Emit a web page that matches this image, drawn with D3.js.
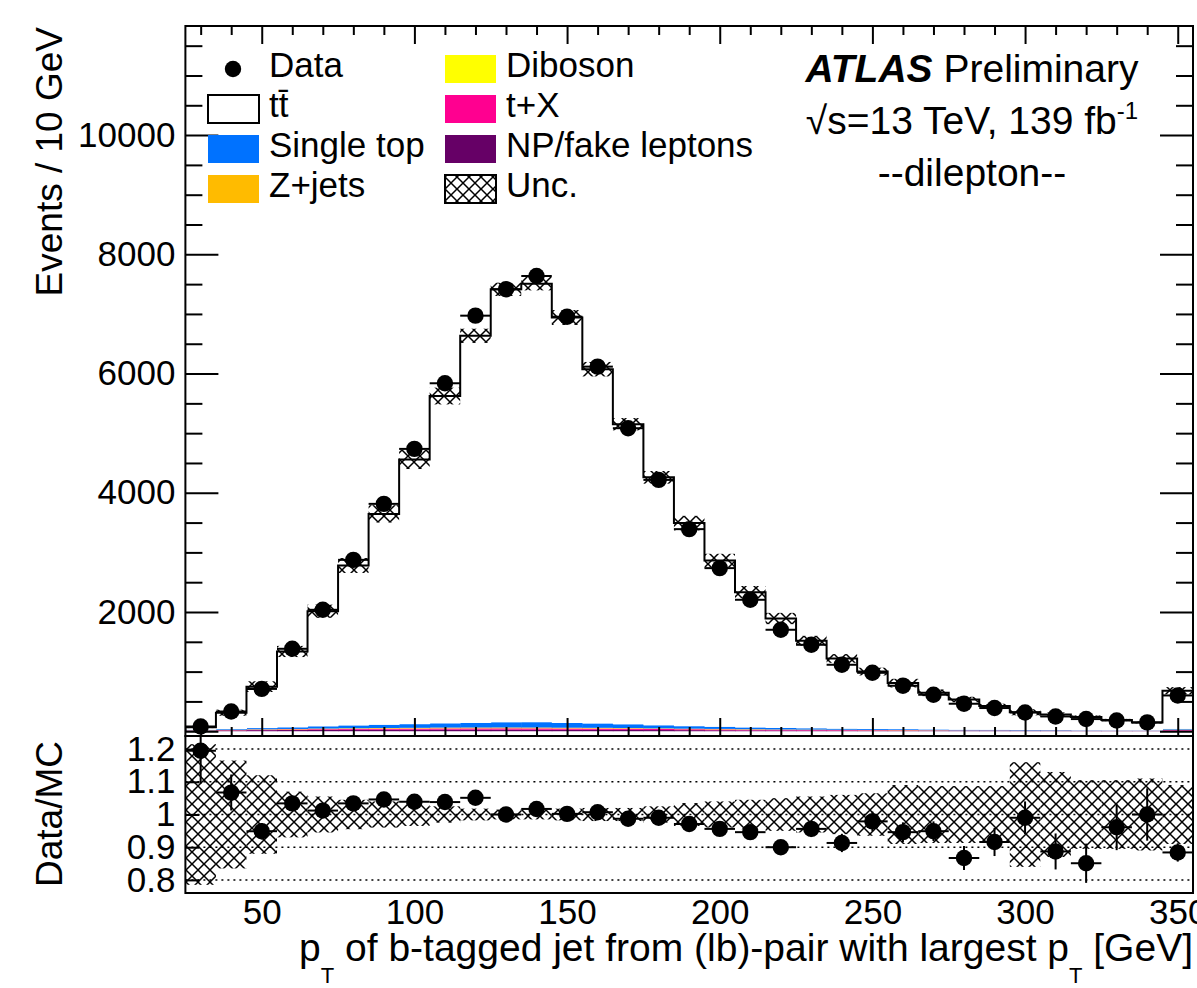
<!DOCTYPE html>
<html>
<head>
<meta charset="utf-8">
<script src="https://cdn.jsdelivr.net/npm/d3@7/dist/d3.min.js"></script>
<style>
  html, body { margin: 0; padding: 0; background: #fff; }
  svg text { font-family: "Liberation Sans", Arial, Helvetica, sans-serif; fill: #000; white-space: pre; }
</style>
</head>
<body>
<div id="chart"></div>
<script>
// bin centres (10 GeV bins, last bin includes overflow)
const binCenters = [30, 40, 50, 60, 70, 80, 90, 100, 110, 120, 130, 140, 150, 160, 170, 180, 190,
                    200, 210, 220, 230, 240, 250, 260, 270, 280, 290, 300, 310, 320, 330, 340, 350];

const dataEvents = [80, 332, 710, 1383, 2037, 2875, 3814, 4736, 5837, 6971, 7413, 7636, 6954, 6116, 5083, 4216, 3390,
                    2736, 2205, 1702, 1450, 1115, 980, 763, 612, 461, 389, 315, 248, 204, 181, 148, 600];

// MC components (events / bin)
const ttbar     = [42, 275, 695, 1272, 1930, 2682, 3537, 4439, 5490, 6493, 7262, 7356, 6801, 5942, 5033, 4159, 3406,
                   2787, 2267, 1835, 1467, 1178, 963, 772, 615, 507, 401, 297, 260, 224, 173, 133, 639];
const singleTop = [8, 12, 20, 28, 38, 48, 55, 62, 72, 78, 88, 90, 80, 74, 64, 52, 42,
                   36, 30, 26, 22, 18, 15, 14, 12, 10, 9, 8, 7, 6, 5, 5, 12];
const zjets     = [3, 4, 5, 6, 7, 8, 9, 9, 10, 10, 10, 10, 9, 9, 8, 7, 6,
                   6, 5, 4, 4, 3, 3, 3, 2, 2, 2, 2, 2, 1, 1, 1, 3];
const diboson   = [1, 1, 2, 2, 3, 3, 3, 4, 4, 4, 4, 4, 4, 4, 3, 3, 3,
                   3, 3, 2, 2, 2, 2, 2, 2, 1, 1, 1, 1, 1, 1, 1, 3];
const tX        = [3, 5, 8, 10, 13, 15, 17, 19, 21, 22, 23, 23, 22, 21, 20, 18, 16,
                   14, 12, 11, 10, 9, 8, 7, 6, 5, 5, 4, 4, 3, 3, 3, 10];
const npFake    = [10, 14, 18, 20, 22, 24, 25, 25, 26, 26, 26, 25, 24, 23, 22, 20, 18,
                   16, 14, 13, 12, 11, 10, 9, 8, 7, 7, 6, 6, 5, 5, 5, 12];

// relative MC uncertainty per bin
const mcUnc = [0.215, 0.165, 0.12, 0.07, 0.055, 0.045, 0.04, 0.035, 0.025, 0.018, 0.015, 0.015, 0.018, 0.02, 0.02, 0.025, 0.035,
               0.04, 0.045, 0.05, 0.055, 0.06, 0.065, 0.09, 0.087, 0.087, 0.087, 0.16, 0.13, 0.105, 0.105, 0.11, 0.09];

// Data/MC ratio and its statistical error
const ratio    = [1.195, 1.067, 0.949, 1.034, 1.012, 1.034, 1.046, 1.039, 1.038, 1.051, 1.000, 1.017, 1.002, 1.007, 0.987, 0.990, 0.971,
                  0.956, 0.946, 0.900, 0.956, 0.913, 0.979, 0.946, 0.949, 0.867, 0.916, 0.990, 0.887, 0.851, 0.961, 1.000, 0.884];
const ratioErr = [0.10, 0.055, 0.025, 0.015, 0.012, 0.01, 0.01, 0.01, 0.01, 0.01, 0.01, 0.01, 0.01, 0.01, 0.012, 0.013, 0.015,
                  0.017, 0.02, 0.022, 0.025, 0.028, 0.03, 0.03, 0.03, 0.037, 0.043, 0.05, 0.055, 0.06, 0.07, 0.08, 0.028];

const mainTicks = [2000, 4000, 6000, 8000, 10000];
const ratioTicks = [0.8, 0.9, 1.0, 1.1, 1.2];
const xTicks = [50, 100, 150, 200, 250, 300, 350];

const components = [
  { key: "npFake",    label: "NP/fake leptons", color: "#660066", values: npFake },
  { key: "tX",        label: "t+X",             color: "#ff0090", values: tX },
  { key: "diboson",   label: "Diboson",         color: "#ffff00", values: diboson },
  { key: "zjets",     label: "Z+jets",          color: "#ffbb00", values: zjets },
  { key: "singleTop", label: "Single top",      color: "#0072ff", values: singleTop },
  { key: "ttbar",     label: "tt\u0304",        color: "#ffffff", values: ttbar }
];

const halfBin = 5;
const frame = { left: 185.4, right: 1193, top: 26, split: 736, bottom: 893 };

const svg = d3.select("#chart").append("svg")
  .attr("width", 1197).attr("height", 988);

const x = d3.scaleLinear().domain([25, 355]).range([frame.left, frame.right]);
const y = d3.scaleLinear().domain([-80, 11830]).range([frame.split, frame.top]);
const yR = d3.scaleLinear().domain([0.76, 1.24]).range([frame.bottom, frame.split]);

const defs = svg.append("defs");
const hatch = defs.append("pattern").attr("id", "hatch")
  .attr("patternUnits", "userSpaceOnUse").attr("width", 12).attr("height", 12);
hatch.append("path").attr("d", "M-2,-2 L14,14 M14,-2 L-2,14")
  .attr("stroke", "#000").attr("stroke-width", 1.5).attr("fill", "none");

defs.append("clipPath").attr("id", "clipMain").append("rect")
  .attr("x", frame.left).attr("y", frame.top)
  .attr("width", frame.right - frame.left).attr("height", frame.split - frame.top);
defs.append("clipPath").attr("id", "clipRatio").append("rect")
  .attr("x", frame.left).attr("y", frame.split)
  .attr("width", frame.right - frame.left).attr("height", frame.bottom - frame.split);

/* -------------------- MAIN PANEL -------------------- */
const rows = binCenters.map((c, i) => {
  const r = { c };
  components.forEach(comp => r[comp.key] = comp.values[i]);
  return r;
});
const stacked = d3.stack().keys(components.map(d => d.key))(rows);
const mcTotal = stacked[stacked.length - 1].map(d => d[1]);

const main = svg.append("g").attr("clip-path", "url(#clipMain)");

stacked.forEach((layer, li) => {
  main.append("g").selectAll("rect")
    .data(layer)
    .join("rect")
    .attr("x", d => x(d.data.c - halfBin))
    .attr("width", d => x(d.data.c + halfBin) - x(d.data.c - halfBin) + 0.5)
    .attr("y", d => y(d[1]))
    .attr("height", d => Math.max(0, y(d[0]) - y(d[1])))
    .attr("fill", components[li].color);
});

// uncertainty band on total MC
main.append("g").selectAll("rect")
  .data(binCenters)
  .join("rect")
  .attr("x", (c) => x(c - halfBin))
  .attr("width", (c) => x(c + halfBin) - x(c - halfBin))
  .attr("y", (c, i) => y(mcTotal[i] * (1 + mcUnc[i])))
  .attr("height", (c, i) => y(mcTotal[i] * (1 - mcUnc[i])) - y(mcTotal[i] * (1 + mcUnc[i])))
  .attr("fill", "url(#hatch)");

// total MC outline (step)
const stepPts = [[25, 0]].concat(binCenters.map((c, i) => [c - halfBin, mcTotal[i]]), [[355, mcTotal[mcTotal.length - 1]]]);
main.append("path")
  .attr("d", d3.line().x(d => x(d[0])).y(d => y(d[1])).curve(d3.curveStepAfter)(stepPts))
  .attr("fill", "none").attr("stroke", "#000").attr("stroke-width", 2);

// data
const dataG = main.append("g");
dataG.selectAll("line")
  .data(binCenters)
  .join("line")
  .attr("x1", c => x(c - halfBin)).attr("x2", c => x(c + halfBin))
  .attr("y1", (c, i) => y(dataEvents[i])).attr("y2", (c, i) => y(dataEvents[i]))
  .attr("stroke", "#000").attr("stroke-width", 2);
dataG.selectAll("circle")
  .data(binCenters)
  .join("circle")
  .attr("cx", c => x(c)).attr("cy", (c, i) => y(dataEvents[i]))
  .attr("r", 8.2).attr("fill", "#000");

/* -------------------- RATIO PANEL -------------------- */
const ratioG = svg.append("g").attr("clip-path", "url(#clipRatio)");

ratioG.selectAll("line.grid")
  .data(ratioTicks)
  .join("line").attr("class", "grid")
  .attr("x1", frame.left).attr("x2", frame.right)
  .attr("y1", d => yR(d)).attr("y2", d => yR(d))
  .attr("stroke", "#000").attr("stroke-width", 1.5).attr("stroke-dasharray", "2,4");

ratioG.append("g").selectAll("rect")
  .data(binCenters)
  .join("rect")
  .attr("x", c => x(c - halfBin))
  .attr("width", c => x(c + halfBin) - x(c - halfBin))
  .attr("y", (c, i) => yR(1 + mcUnc[i]))
  .attr("height", (c, i) => yR(1 - mcUnc[i]) - yR(1 + mcUnc[i]))
  .attr("fill", "url(#hatch)");

const rData = ratioG.append("g");
rData.selectAll("line.h")
  .data(binCenters)
  .join("line").attr("class", "h")
  .attr("x1", c => x(c - halfBin)).attr("x2", c => x(c + halfBin))
  .attr("y1", (c, i) => yR(ratio[i])).attr("y2", (c, i) => yR(ratio[i]))
  .attr("stroke", "#000").attr("stroke-width", 2);
rData.selectAll("line.v")
  .data(binCenters)
  .join("line").attr("class", "v")
  .attr("x1", c => x(c)).attr("x2", c => x(c))
  .attr("y1", (c, i) => yR(ratio[i] - ratioErr[i])).attr("y2", (c, i) => yR(ratio[i] + ratioErr[i]))
  .attr("stroke", "#000").attr("stroke-width", 2);
rData.selectAll("circle")
  .data(binCenters)
  .join("circle")
  .attr("cx", c => x(c)).attr("cy", (c, i) => yR(ratio[i]))
  .attr("r", 8.2).attr("fill", "#000");

/* -------------------- AXES -------------------- */
function styleAxis(g) {
  g.attr("font-size", null).attr("font-family", null);
  g.select(".domain").remove();
  g.selectAll(".tick line").attr("stroke", "#000").attr("stroke-width", 2);
  g.selectAll("text").style("font-size", "35px").attr("fill", "#000");
}

const minorY = d3.range(0, 11830, 500).filter(v => v % 2000 !== 0);
const majorY = d3.range(0, 11830, 2000);
const minorX = d3.range(30, 355, 10).filter(v => v % 50 !== 0);

// left
svg.append("g").attr("transform", `translate(${frame.left},0)`)
  .call(d3.axisLeft(y).tickValues(majorY).tickSize(-33).tickPadding(10)
    .tickFormat(d => mainTicks.includes(d) ? d : ""))
  .call(styleAxis);
svg.append("g").attr("transform", `translate(${frame.left},0)`)
  .call(d3.axisLeft(y).tickValues(minorY).tickSize(-17).tickFormat(""))
  .call(styleAxis);
// right
svg.append("g").attr("transform", `translate(${frame.right},0)`)
  .call(d3.axisRight(y).tickValues(majorY).tickSize(-33).tickFormat(""))
  .call(styleAxis);
svg.append("g").attr("transform", `translate(${frame.right},0)`)
  .call(d3.axisRight(y).tickValues(minorY).tickSize(-17).tickFormat(""))
  .call(styleAxis);
// top and bottom of main panel
[[frame.top, d3.axisTop], [frame.split, d3.axisBottom]].forEach(([yy, ax]) => {
  svg.append("g").attr("transform", `translate(0,${yy})`)
    .call(ax(x).tickValues(xTicks).tickSize(-18).tickFormat(""))
    .call(styleAxis);
  svg.append("g").attr("transform", `translate(0,${yy})`)
    .call(ax(x).tickValues(minorX).tickSize(-9).tickFormat(""))
    .call(styleAxis);
});
// ratio y axis
svg.append("g").attr("transform", `translate(${frame.left},0)`)
  .call(d3.axisLeft(yR).tickValues(ratioTicks).tickSize(-14).tickPadding(10)
    .tickFormat(d => d === 1 ? "1" : d.toFixed(1)))
  .call(styleAxis);
// ratio x axis labels
svg.append("g").attr("transform", `translate(0,${frame.bottom})`)
  .call(d3.axisBottom(x).tickValues(xTicks).tickSize(0).tickPadding(6))
  .call(styleAxis);

// frames
svg.append("rect").attr("x", frame.left).attr("y", frame.top)
  .attr("width", frame.right - frame.left).attr("height", frame.split - frame.top)
  .attr("fill", "none").attr("stroke", "#000").attr("stroke-width", 2);
svg.append("rect").attr("x", frame.left).attr("y", frame.split)
  .attr("width", frame.right - frame.left).attr("height", frame.bottom - frame.split)
  .attr("fill", "none").attr("stroke", "#000").attr("stroke-width", 2);

/* -------------------- TITLES -------------------- */
svg.append("text")
  .attr("transform", "translate(62,27) rotate(-90)")
  .attr("text-anchor", "end").style("font-size", "37px")
  .text("Events / 10 GeV");
svg.append("text")
  .attr("transform", "translate(62,814) rotate(-90)")
  .attr("text-anchor", "middle").style("font-size", "37px")
  .text("Data/MC");

const xt = svg.append("text").attr("x", 1193).attr("y", 961)
  .attr("text-anchor", "end").style("font-size", "39px");
xt.append("tspan").text("p");
xt.append("tspan").attr("dy", 22).style("font-size", "22px").text("T");
xt.append("tspan").attr("dy", -22).text(" of b-tagged jet from (lb)-pair with largest p");
xt.append("tspan").attr("dy", 22).style("font-size", "22px").text("T");
xt.append("tspan").attr("dy", -22).text(" [GeV]");

const atlas = svg.append("text").attr("x", 972).attr("y", 82)
  .attr("text-anchor", "middle").style("font-size", "39px");
atlas.append("tspan").attr("font-weight", "bold").attr("font-style", "italic").text("ATLAS");
atlas.append("tspan").text(" Preliminary");

const lumi = svg.append("text").attr("x", 972).attr("y", 134)
  .attr("text-anchor", "middle").style("font-size", "39px");
lumi.append("tspan").text("\u221As=13 TeV, 139 fb");
lumi.append("tspan").attr("dy", -15).style("font-size", "24px").text("-1");

svg.append("text").attr("x", 972).attr("y", 186)
  .attr("text-anchor", "middle").style("font-size", "39px")
  .text("--dilepton--");

/* -------------------- LEGEND -------------------- */
const legendEntries = [
  { label: "Data",            type: "marker", col: 0, row: 0 },
  { label: "tt\u0304",        type: "box", fill: "#ffffff", stroke: "#000", col: 0, row: 1 },
  { label: "Single top",      type: "box", fill: "#0072ff", col: 0, row: 2 },
  { label: "Z+jets",          type: "box", fill: "#ffbb00", col: 0, row: 3 },
  { label: "Diboson",         type: "box", fill: "#ffff00", col: 1, row: 0 },
  { label: "t+X",             type: "box", fill: "#ff0090", col: 1, row: 1 },
  { label: "NP/fake leptons", type: "box", fill: "#660066", col: 1, row: 2 },
  { label: "Unc.",            type: "box", fill: "url(#hatch)", stroke: "#000", col: 1, row: 3 }
];
const colX = [208, 445], rowY = [69, 109, 149, 189];
const leg = svg.append("g").selectAll("g")
  .data(legendEntries)
  .join("g")
  .attr("transform", d => `translate(${colX[d.col]},${rowY[d.row]})`);
leg.filter(d => d.type === "box").append("rect")
  .attr("x", 0).attr("y", -14).attr("width", 51).attr("height", 28)
  .attr("fill", d => d.fill)
  .attr("stroke", d => d.stroke || "none").attr("stroke-width", 2);
leg.filter(d => d.type === "marker").append("circle")
  .attr("cx", 25).attr("cy", 0).attr("r", 8.2).attr("fill", "#000");
leg.append("text").attr("x", 61).attr("y", 8)
  .style("font-size", "35px").text(d => d.label);
</script>
</body>
</html>
